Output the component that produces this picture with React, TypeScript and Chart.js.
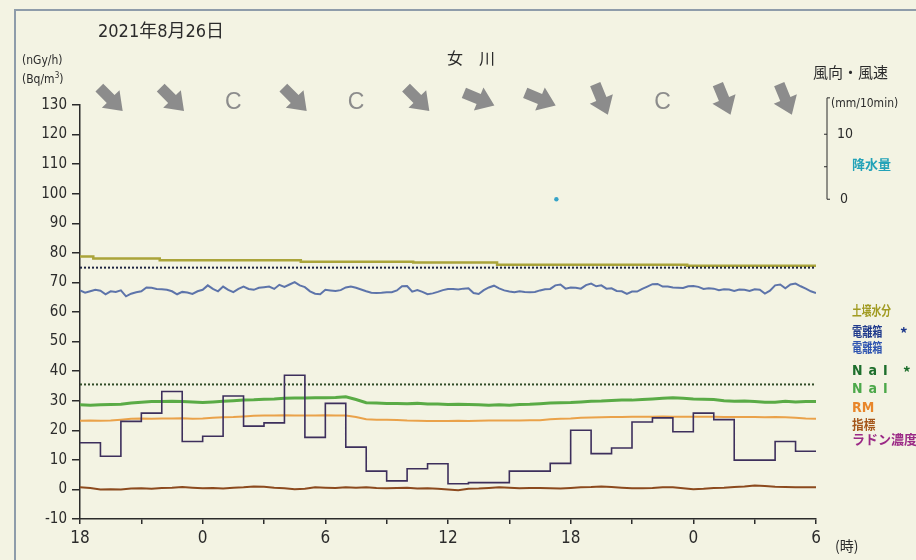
import { useEffect, useRef } from 'react';
import { Chart, registerables } from 'chart.js';

Chart.register(...registerables);

// Time axis: hours elapsed since 18:00 on the first day (0 .. 36)
const xTickLabels = ['18', '', '0', '', '6', '', '12', '', '18', '', '0', '', '6'];

// 電離箱 dose rate (nGy/h), 15-minute values
const ionChamber = [
  67.3, 66.5, 67.0, 67.5, 67.2, 66.0, 67.0, 66.8, 67.3, 65.3, 66.2, 66.7, 67.0, 68.3, 68.2, 67.8,
  67.7, 67.5, 67.0, 66.0, 66.8, 66.6, 66.1, 67.0, 67.5, 69.0, 67.8, 67.0, 68.6, 67.5, 66.7, 67.8,
  68.6, 67.8, 67.5, 68.2, 68.4, 68.6, 67.8, 69.2, 68.5, 69.3, 70.1, 69.0, 68.4, 67.0, 66.2, 66.0,
  67.5,
  67.3, 67.1, 67.4, 68.3, 68.6, 68.2, 67.6, 67.0, 66.5, 66.4, 66.5, 66.7, 66.7, 67.3, 68.7, 68.8,
  66.9, 67.4, 66.8, 66.0, 66.3, 66.8, 67.4, 67.8, 67.8, 67.6, 67.9, 68.0, 66.4, 66.1, 67.4, 68.3,
  68.9, 68.0, 67.3, 66.9, 66.7, 67.0, 66.8, 66.7, 66.8, 67.3, 67.7, 67.8, 69.0, 69.3, 67.9, 68.3,
  68.2, 67.9, 69.1, 69.6, 68.7, 69.0, 67.9, 68.0, 67.1, 67.0, 66.1, 66.9, 66.9, 67.8, 68.6, 69.4,
  69.5, 68.6, 68.6, 68.3, 68.2, 68.1, 68.7, 68.8, 68.5, 67.8, 68.0, 67.9, 67.4, 67.7, 67.6, 67.1,
  67.6, 67.5, 67.1, 67.7, 67.5, 66.2, 67.2, 69.0, 69.3, 68.0, 69.3, 69.6, 68.7, 67.9, 67.0, 66.4,
];
const ionStep = 0.25;

// NaI dose rate (nGy/h), 30-minute values
const nai = [
  28.6, 28.5, 28.6, 28.7, 28.8, 29.2, 29.5, 29.7, 29.7, 29.8,
  29.7, 29.6, 29.4, 29.6, 29.8, 30.0, 30.2, 30.3, 30.5, 30.6,
  30.8, 30.9, 30.9, 31.0, 31.0, 31.1, 31.3, 30.4, 29.3, 29.2,
  29.1, 29.1, 29.0, 29.1, 28.9, 28.9, 28.7, 28.8, 28.7, 28.6,
  28.5, 28.6, 28.5, 28.7, 28.8, 29.0, 29.2, 29.3, 29.4, 29.6,
  29.8, 29.9, 30.1, 30.2, 30.2, 30.4, 30.6, 30.8, 31.0, 30.8,
  30.6, 30.5, 30.4, 30.0, 29.8, 29.9, 29.7, 29.5, 29.5, 29.8,
  29.6, 29.7, 29.7,
];

// RM dose rate (nGy/h), 30-minute values
const rm = [
  23.2, 23.3, 23.2, 23.3, 23.6, 23.9, 24.0, 23.9, 24.0, 24.0,
  24.1, 23.9, 24.0, 24.2, 24.4, 24.5, 24.7, 24.9, 25.0, 25.0,
  25.1, 25.0, 25.0, 25.0, 25.1, 25.0, 25.0, 24.5, 23.7, 23.6,
  23.6, 23.5, 23.3, 23.2, 23.1, 23.1, 23.1, 23.2, 23.1, 23.2,
  23.3, 23.3, 23.3, 23.3, 23.4, 23.4, 23.7, 23.9, 24.0, 24.2,
  24.3, 24.4, 24.5, 24.5, 24.6, 24.6, 24.6, 24.7, 24.6, 24.6,
  24.6, 24.6, 24.6, 24.5, 24.5, 24.5, 24.5, 24.4, 24.5, 24.4,
  24.2, 24.0, 23.9,
];

// 指標 values, 30-minute values
const indicator = [
  0.7, 0.5, 0.0, 0.1, 0.0, 0.3, 0.4, 0.2, 0.5, 0.6,
  0.8, 0.6, 0.4, 0.5, 0.3, 0.6, 0.7, 1.0, 0.9, 0.6,
  0.4, 0.1, 0.2, 0.7, 0.6, 0.5, 0.7, 0.6, 0.7, 0.5,
  0.4, 0.5, 0.6, 0.3, 0.4, 0.2, 0.0, -0.3, 0.2, 0.3,
  0.5, 0.7, 0.6, 0.4, 0.5, 0.5, 0.4, 0.3, 0.5, 0.7,
  0.8, 1.0, 0.8, 0.6, 0.4, 0.4, 0.5, 0.7, 0.7, 0.4,
  0.1, 0.2, 0.5, 0.6, 0.8, 1.0, 1.3, 1.2, 0.9, 0.8,
  0.7, 0.7, 0.7,
];
const halfHour = 0.5;

// ラドン濃度 (Bq/m3), hourly values (each held until the next hour)
const radon = [
  15.8, 11.2, 23.0, 25.8, 33.1, 16.2, 18.0, 31.6, 21.4, 22.5,
  38.6, 17.6, 29.1, 14.3, 6.2, 2.9, 7.0, 8.7, 1.9, 2.3,
  2.3, 6.2, 6.2, 8.8, 20.0, 12.1, 14.0, 22.8, 24.2, 19.5,
  25.8, 23.6, 9.9, 9.9, 16.2, 12.9, 12.9,
];

// 土壌水分: level changes (hour, value)
const soilHours = [0, 0.65, 3.9, 10.8, 16.3, 20.4, 29.7, 36];
const soilMoisture = [78.8, 78.1, 77.5, 77.0, 76.7, 76.0, 75.6, 75.6];

// Reference levels for 電離箱* and NaI*
const ionLevel = 75;
const naiLevel = 35.5;

// 降水量 (mm/10min)
const rainHours = [23.3];
const rainValues = [0];

// 風向 in 3-hour blocks ("C" = calm), direction the wind blows from
const windFrom = ['NW', 'NW', 'C', 'NW', 'C', 'NW', 'WNW', 'WNW', 'NNW', 'C', 'NNW', 'NNW'];
const compass: Record<string, number> = {
  N: 0, NNE: 22.5, NE: 45, ENE: 67.5, E: 90, ESE: 112.5, SE: 135, SSE: 157.5,
  S: 180, SSW: 202.5, SW: 225, WSW: 247.5, W: 270, WNW: 292.5, NW: 315, NNW: 337.5,
};

const NARROW = "'Liberation Sans Narrow', 'DejaVu Sans Condensed', 'Liberation Sans', 'Noto Sans CJK JP', sans-serif";
const CJK = "'Noto Sans CJK JP', 'Liberation Sans', sans-serif";

const COLORS = {
  ion: '#5d74aa',
  nai: '#5aab46',
  rm: '#eaa24a',
  indicator: '#8c4a1e',
  radon: '#3d2f5c',
  soil: '#aaa43a',
  ionLevel: '#1e2440',
  naiLevel: '#2f4a26',
  rain: '#36a3c8',
  wind: '#8c8c8c',
  axis: '#2b2b2b',
};

const series = (vals: number[], step: number) => vals.map((v, i) => ({ x: i * step, y: v }));

const overlayPlugin = {
  id: 'windAndRain',
  afterDraw(chart: any) {
    const { ctx, chartArea, scales } = chart;
    const xs = scales.x;
    const rs = scales.yRain;
    ctx.save();
    // wind direction arrows / calm marks above the plot
    windFrom.forEach((d, i) => {
      const cx = xs.getPixelForValue(1.5 + 3 * i);
      const cy = chartArea.top - 6;
      ctx.fillStyle = COLORS.wind;
      if (d === 'C') {
        ctx.font = "23px 'Liberation Sans', sans-serif";
        ctx.textAlign = 'center';
        ctx.textBaseline = 'middle';
        ctx.fillText('C', cx, cy + 4);
        return;
      }
      const ang = ((compass[d] + 180 - 90) * Math.PI) / 180;
      ctx.save();
      ctx.translate(cx, cy);
      ctx.rotate(ang);
      ctx.beginPath();
      ctx.moveTo(-16, -5.5);
      ctx.lineTo(0, -5.5);
      ctx.lineTo(0, -12.5);
      ctx.lineTo(17, 0);
      ctx.lineTo(0, 12.5);
      ctx.lineTo(0, 5.5);
      ctx.lineTo(-16, 5.5);
      ctx.closePath();
      ctx.fill();
      ctx.restore();
    });
    // precipitation scale bracket on the right
    const bx = chartArea.right + 11;
    const yTop = rs.getPixelForValue(15.6);
    const y0 = rs.getPixelForValue(0);
    const y10 = rs.getPixelForValue(10);
    const y5 = rs.getPixelForValue(5);
    ctx.strokeStyle = COLORS.axis;
    ctx.lineWidth = 1;
    ctx.beginPath();
    ctx.moveTo(bx + 3, yTop);
    ctx.lineTo(bx, yTop);
    ctx.lineTo(bx, y0);
    ctx.lineTo(bx + 3, y0);
    ctx.moveTo(bx - 3, y10);
    ctx.lineTo(bx, y10);
    ctx.moveTo(bx - 3, y5);
    ctx.lineTo(bx, y5);
    ctx.stroke();
    ctx.fillStyle = COLORS.axis;
    ctx.font = `14px ${NARROW}`;
    ctx.textAlign = 'left';
    ctx.textBaseline = 'middle';
    ctx.fillText('10', bx + 10, y10);
    ctx.fillText('0', bx + 13, y0);
    ctx.restore();
  },
};

export default function App() {
  const ref = useRef<HTMLCanvasElement>(null);

  useEffect(() => {
    const canvas = ref.current;
    if (!canvas) return;
    const chart = new Chart(canvas, {
      type: 'line',
      data: {
        datasets: [
          {
            label: 'ラドン濃度',
            data: series(radon, 1),
            borderColor: COLORS.radon,
            borderWidth: 1.6,
            stepped: 'before',
            pointRadius: 0,
          },
          {
            label: '指標',
            data: series(indicator, halfHour),
            borderColor: COLORS.indicator,
            borderWidth: 2,
            pointRadius: 0,
          },
          {
            label: 'RM',
            data: series(rm, halfHour),
            borderColor: COLORS.rm,
            borderWidth: 2,
            pointRadius: 0,
          },
          {
            label: 'NaI',
            data: series(nai, halfHour),
            borderColor: COLORS.nai,
            borderWidth: 3,
            pointRadius: 0,
          },
          {
            label: 'NaI *',
            data: [{ x: 0, y: naiLevel }, { x: 36, y: naiLevel }],
            borderColor: COLORS.naiLevel,
            borderWidth: 2,
            borderDash: [2, 2],
            pointRadius: 0,
          },
          {
            label: '電離箱 *',
            data: [{ x: 0, y: ionLevel }, { x: 36, y: ionLevel }],
            borderColor: COLORS.ionLevel,
            borderWidth: 2,
            borderDash: [2, 2],
            pointRadius: 0,
          },
          {
            label: '電離箱',
            data: series(ionChamber, ionStep),
            borderColor: COLORS.ion,
            borderWidth: 2,
            pointRadius: 0,
          },
          {
            label: '土壌水分',
            data: soilHours.map((h, i) => ({ x: h, y: soilMoisture[i] })),
            borderColor: COLORS.soil,
            borderWidth: 2.5,
            stepped: 'before',
            pointRadius: 0,
          },
          {
            label: '降水量',
            data: rainHours.map((h, i) => ({ x: h, y: rainValues[i] })),
            yAxisID: 'yRain',
            showLine: false,
            pointRadius: 2.2,
            pointBorderWidth: 0,
            pointBackgroundColor: COLORS.rain,
            borderColor: COLORS.rain,
          },
        ],
      },
      options: {
        animation: false,
        responsive: false,
        devicePixelRatio: 1,
        layout: { padding: { left: 0, right: 100, top: 105, bottom: 0 } },
        plugins: {
          legend: { display: false },
          tooltip: { enabled: false },
          title: { display: false },
        },
        scales: {
          x: {
            type: 'linear',
            min: 0,
            max: 36,
            afterFit: (s: any) => {
              s.height = 41;
            },
            border: { display: true, color: COLORS.axis, width: 1.5 },
            grid: { drawOnChartArea: false, drawTicks: true, tickLength: 5, color: COLORS.axis, lineWidth: 1.5 },
            ticks: {
              stepSize: 3,
              autoSkip: false,
              maxRotation: 0,
              padding: 4,
              color: COLORS.axis,
              font: { family: NARROW, size: 17 },
              callback: (_v: any, i: number) => xTickLabels[i] ?? '',
            },
          },
          y: {
            type: 'linear',
            min: -10,
            max: 130,
            afterFit: (s: any) => {
              s.width = 80;
            },
            border: { display: true, color: COLORS.axis, width: 1.5 },
            grid: { drawOnChartArea: false, drawTicks: true, tickLength: 8, color: COLORS.axis, lineWidth: 1.5 },
            ticks: {
              stepSize: 10,
              padding: 5,
              color: COLORS.axis,
              font: { family: NARROW, size: 15 },
            },
          },
          yRain: {
            type: 'linear',
            position: 'right',
            display: false,
            min: -49.2,
            max: 14.5,
          },
        },
      },
      plugins: [overlayPlugin],
    } as any);
    return () => chart.destroy();
  }, []);

  const txt = (extra: any) => ({ position: 'absolute' as const, whiteSpace: 'nowrap' as const, lineHeight: 1, ...extra });
  const legend = (extra: any) =>
    txt({ left: 852, fontFamily: CJK, fontWeight: 700, fontSize: 13, transformOrigin: 'left center', ...extra });

  return (
    <div
      style={{
        position: 'fixed',
        left: 0,
        top: 0,
        width: 916,
        height: 560,
        overflow: 'hidden',
        background: '#f3f3e3',
        color: '#2b2b2b',
      }}
    >
      <div
        style={{
          position: 'absolute',
          left: 14,
          top: 9,
          right: -10,
          bottom: -10,
          borderTop: '2px solid #8e9caa',
          borderLeft: '2px solid #8e9caa',
        }}
      />
      <canvas ref={ref} width={916} height={560} style={{ position: 'absolute', left: 0, top: 0, width: 916, height: 560 }} />

      <div style={txt({ left: 98, top: 22, fontSize: 18, fontFamily: NARROW })}>2021年8月26日</div>
      <div style={txt({ left: 447, top: 49, fontSize: 16, fontFamily: CJK })}>女　川</div>
      <div style={txt({ left: 22, top: 54, fontSize: 12, fontFamily: NARROW })}>(nGy/h)</div>
      <div style={txt({ left: 22, top: 73, fontSize: 12, fontFamily: NARROW })}>
        (Bq/m<sup style={{ fontSize: 8, lineHeight: 0 }}>3</sup>)
      </div>
      <div style={txt({ left: 813, top: 64, fontSize: 15, fontFamily: CJK })}>風向・風速</div>
      <div style={txt({ left: 831, top: 97, fontSize: 12, fontFamily: NARROW })}>(mm/10min)</div>
      <div style={legend({ top: 157, color: '#22a2b8' })}>降水量</div>

      <div style={legend({ top: 303, color: '#a19b22', transform: 'scaleX(0.75)' })}>土壌水分</div>
      <div style={legend({ top: 324, color: '#1f3a8c', transform: 'scaleX(0.78)' })}>電離箱</div>
      <div style={legend({ left: 900, top: 325, color: '#1f3a8c', fontSize: 15 })}>*</div>
      <div style={legend({ top: 340, color: '#2e54b0', transform: 'scaleX(0.78)' })}>電離箱</div>
      <div style={legend({ top: 363, color: '#1d6e2c', fontFamily: NARROW, fontSize: 14, letterSpacing: 6 })}>NaI</div>
      <div style={legend({ left: 903, top: 364, color: '#1d6e2c', fontSize: 15 })}>*</div>
      <div style={legend({ top: 381, color: '#4ca84a', fontFamily: NARROW, fontSize: 14, letterSpacing: 6 })}>NaI</div>
      <div style={legend({ top: 400, color: '#e8862a', fontFamily: NARROW, fontSize: 14 })}>RM</div>
      <div style={legend({ top: 417, color: '#a4561a', transform: 'scaleX(0.9)' })}>指標</div>
      <div style={legend({ top: 432, color: '#9b2a86' })}>ラドン濃度</div>

      <div style={txt({ left: 835, top: 538, fontSize: 14, fontFamily: CJK })}>(時)</div>
    </div>
  );
}
